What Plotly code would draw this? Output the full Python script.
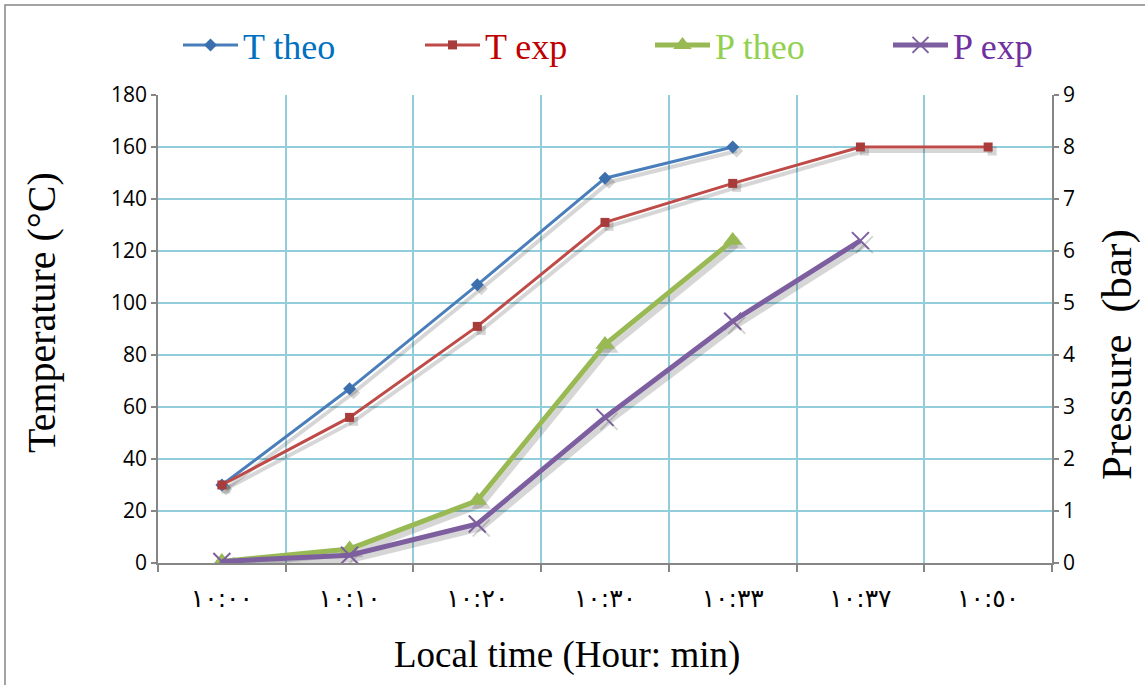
import plotly.graph_objects as go

# Time of reading (hh:mm, Eastern Arabic digits)
times = ["١٠:٠٠", "١٠:١٠", "١٠:٢٠", "١٠:٣٠", "١٠:٣٣", "١٠:٣٧", "١٠:٥٠"]

# Temperature (°C)
t_theo = [30, 67, 107, 148, 160]
t_exp = [30, 56, 91, 131, 146, 160, 160]

# Pressure (bar)
p_theo = [0.03, 0.27, 1.2, 4.2, 6.2]
p_exp = [0.03, 0.15, 0.75, 2.8, 4.65, 6.2]

x_all = list(range(len(times)))

# plot-area geometry (pixels) used for the drop-shadow offset, titles and frame
PLOT_L, PLOT_R, PLOT_T, PLOT_B = 158, 1052, 95, 563
W, H = 1145, 685
px_x = (len(times)) / (PLOT_R - PLOT_L)      # category units per pixel
px_t = 180 / (PLOT_B - PLOT_T)                # °C per pixel
px_p = 9 / (PLOT_B - PLOT_T)                  # bar per pixel
SH_DX, SH_DY = 4, 4
shadow = "rgba(0,0,0,0.16)"


def paper_x(px):
    return (px - PLOT_L) / (PLOT_R - PLOT_L)


def paper_y(py):
    return (PLOT_B - py) / (PLOT_B - PLOT_T)


series = [
    dict(y=t_theo, axis="y", label="T theo", text_col="#0070c0", col="#4a7ebb",
         mcol="#3c6fae", width=3, symbol="diamond", size=10, leg="legend"),
    dict(y=t_exp, axis="y", label="T exp", text_col="#c00000", col="#be4b48",
         mcol="#a83c3a", width=3, symbol="square", size=9, leg="legend2"),
    dict(y=p_theo, axis="y2", label="P theo", text_col="#92d050", col="#98b954",
         mcol="#98b954", width=5, symbol="triangle-up", size=17, leg="legend3"),
    dict(y=p_exp, axis="y2", label="P exp", text_col="#7030a0", col="#7d5fa0",
         mcol="#7d5fa0", width=5, symbol="x-thin-open", size=17, leg="legend4"),
]

fig = go.Figure()

# soft drop shadows under each series
for s in series:
    per_px = px_t if s["axis"] == "y" else px_p
    xs = [x + SH_DX * px_x for x in x_all[:len(s["y"])]]
    ys = [v - SH_DY * per_px for v in s["y"]]
    fig.add_trace(go.Scatter(
        x=xs, y=ys, mode="lines+markers", yaxis=s["axis"], showlegend=False,
        hoverinfo="skip", line=dict(color=shadow, width=s["width"] + 1),
        marker=dict(symbol=s["symbol"], size=s["size"], color=shadow,
                    line=dict(color=shadow, width=2 if "x-thin" in s["symbol"] else 0)),
    ))

for s in series:
    fig.add_trace(go.Scatter(
        x=x_all[:len(s["y"])], y=s["y"], mode="lines+markers", yaxis=s["axis"],
        name=f'<span style="color:{s["text_col"]}">{s["label"]}</span>',
        legend=s["leg"],
        line=dict(color=s["col"], width=s["width"]),
        marker=dict(symbol=s["symbol"], size=s["size"], color=s["mcol"],
                    line=dict(color=s["mcol"], width=2 if "x-thin" in s["symbol"] else 0)),
    ))

grid_col = "#92cddc"
axis_col = "#868686"
tick_font = dict(family="Open Sans, Noto Sans, DejaVu Sans", size=21, color="#000000")
serif = "Liberation Serif, Times New Roman, serif"


def legend_at(x_px):
    return dict(
        orientation="h", x=paper_x(x_px), y=paper_y(45),
        xanchor="left", yanchor="middle",
        font=dict(family=serif, size=36), itemwidth=55,
        bgcolor="rgba(0,0,0,0)",
    )


fig.update_layout(
    width=W, height=H,
    margin=dict(l=PLOT_L, r=W - PLOT_R, t=PLOT_T, b=H - PLOT_B),
    paper_bgcolor="white", plot_bgcolor="white",
    showlegend=True,
    legend=legend_at(178), legend2=legend_at(420),
    legend3=legend_at(650), legend4=legend_at(888),
    xaxis=dict(
        range=[-0.5, len(times) - 0.5],
        tickmode="array", tickvals=x_all, ticktext=times,
        ticks="", showgrid=False,
        tickfont=dict(family="DejaVu Sans, Noto Sans", size=25, color="#000000"),
        ticklabelstandoff=12,
        showline=True, linecolor=axis_col, linewidth=1.5,
        minor=dict(tickvals=[i + 0.5 for i in range(-1, len(times))],
                   showgrid=True, gridcolor=grid_col, gridwidth=1.5,
                   ticks="outside", ticklen=7, tickcolor=axis_col, tickwidth=1.5),
        zeroline=False,
    ),
    yaxis=dict(
        range=[0, 180], dtick=20, tickmode="linear",
        showgrid=True, gridcolor=grid_col, gridwidth=1.5,
        ticks="outside", ticklen=5, tickcolor=axis_col, tickwidth=1.5,
        tickfont=tick_font,
        showline=True, linecolor=axis_col, linewidth=1.5,
        zeroline=False,
    ),
    yaxis2=dict(
        range=[0, 9], dtick=1, tickmode="linear",
        overlaying="y", side="right", showgrid=False,
        ticks="outside", ticklen=5, tickcolor=axis_col, tickwidth=1.5,
        tickfont=tick_font,
        showline=True, linecolor=axis_col, linewidth=1.5,
        zeroline=False,
    ),
    annotations=[
        dict(text="Local time (Hour: min)", xref="paper", yref="paper",
             x=paper_x(567), y=paper_y(655), xanchor="center", yanchor="middle",
             showarrow=False, font=dict(family=serif, size=37, color="#000")),
        dict(text="Temperature (°C)", xref="paper", yref="paper", textangle=-90,
             x=paper_x(41), y=paper_y(313), xanchor="center", yanchor="middle",
             showarrow=False, font=dict(family=serif, size=40, color="#000")),
        dict(text="Pressure  (bar)", xref="paper", yref="paper", textangle=-90,
             x=paper_x(1117), y=paper_y(355), xanchor="center", yanchor="middle",
             showarrow=False, font=dict(family=serif, size=43, color="#000")),
    ],
    shapes=[dict(
        type="rect", xref="paper", yref="paper",
        x0=paper_x(5), x1=paper_x(1160),
        y0=paper_y(700), y1=paper_y(5),
        line=dict(color="#868686", width=1.5), fillcolor="rgba(0,0,0,0)",
        layer="below",
    )],
)

fig.write_html("out.html")
